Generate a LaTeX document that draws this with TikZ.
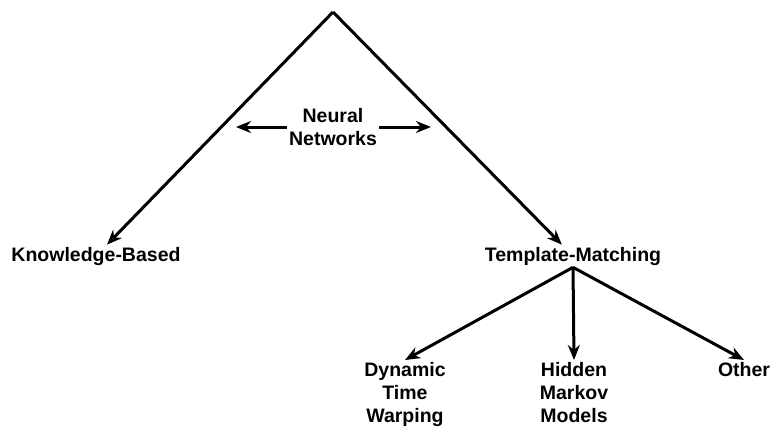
\documentclass[tikz,border=0pt]{standalone}
\usepackage{fontspec}
\setmainfont{Liberation Sans}
\usetikzlibrary{arrows.meta}
\begin{document}
\begin{tikzpicture}[x=1pt,y=-1pt,
  lbl/.style={font=\bfseries\fontsize{19.5}{23}\selectfont, align=center, inner sep=2pt},
  link/.style={line width=3pt, line join=round, -{Stealth[length=15pt,width=12pt]}}]
\useasboundingbox (0,0) rectangle (776,434);
\coordinate (apex) at (333,12);
\node[lbl] (kb) at (96,256) {Knowledge-Based};
\node[lbl] (tm) at (573,256) {Template-Matching};
\node[lbl] (nn) at (333,127) {Neural\\Networks};
\node[lbl, anchor=north] (dtw) at (405,360) {Dynamic\\Time\\Warping};
\node[lbl, anchor=north] (hmm) at (574,360) {Hidden\\Markov\\Models};
\node[lbl, anchor=north] (oth) at (744,360) {Other};
\coordinate (nl) at (236,127);
\coordinate (nr) at (431,127);
\draw[link] (apex) -- (kb);
\draw[link] (apex) -- (tm);
\draw[link] (nn.west) -- (nl);
\draw[link] (nn.east) -- (nr);
\draw[link] (tm.south) -- (dtw.north);
\draw[link] (tm.south) -- (hmm.north);
\draw[link] (tm.south) -- (oth.north);
\end{tikzpicture}
\end{document}
